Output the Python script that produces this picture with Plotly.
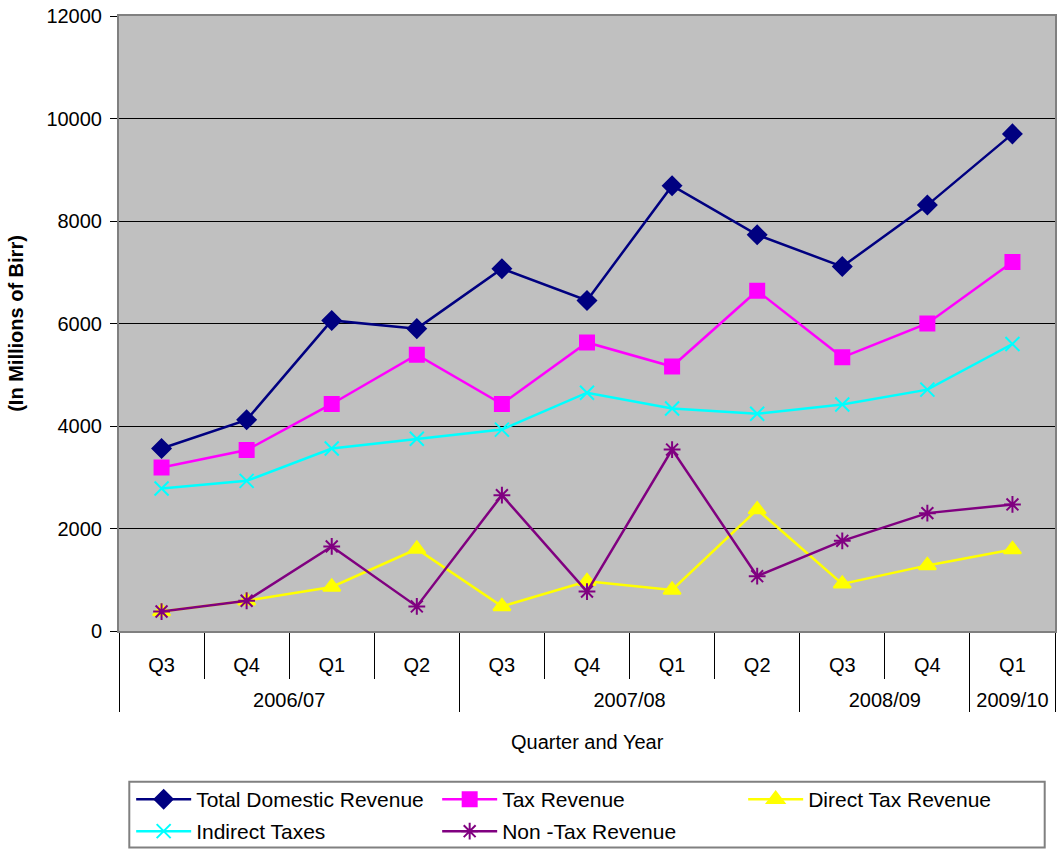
import plotly.graph_objects as go

# categories
years = ['2006/07'] * 4 + ['2007/08'] * 4 + ['2008/09'] * 2 + ['2009/10']
quarters = ['Q3', 'Q4', 'Q1', 'Q2', 'Q3', 'Q4', 'Q1', 'Q2', 'Q3', 'Q4', 'Q1']

# series values (millions of Birr)
total_domestic = [3560, 4120, 6060, 5900, 7070, 6450, 8690, 7730, 7110, 8310, 9700]
tax_revenue = [3190, 3530, 4430, 5390, 4430, 5630, 5160, 6640, 5340, 6000, 7200]
direct_tax = [380, 590, 860, 1600, 480, 970, 800, 2370, 920, 1280, 1590]
indirect_tax = [2780, 2930, 3560, 3750, 3930, 4650, 4340, 4240, 4420, 4710, 5600]
non_tax = [380, 590, 1650, 480, 2650, 770, 3540, 1070, 1760, 2300, 2470]

font_family = 'Liberation Sans, Arial, sans-serif'

# name, values, colour, symbol, size, legend row
series = [
    ('Total Domestic Revenue', total_domestic, '#000080', 'diamond', 14, 'legend'),
    ('Tax Revenue', tax_revenue, '#FF00FF', 'square', 14, 'legend'),
    ('Direct Tax Revenue', direct_tax, '#FFFF00', 'triangle-up', 15, 'legend'),
    ('Indirect Taxes', indirect_tax, '#00FFFF', 'x-thin-open', 14, 'legend2'),
    ('Non -Tax Revenue', non_tax, '#800080', 'asterisk-open', 14, 'legend2'),
]

# year labels pushed one line down so the two label rows sit apart like the original
year_labels = ['<br>' + y for y in years]

fig = go.Figure()
for name, vals, col, sym, sz, lg in series:
    fig.add_trace(go.Scatter(
        x=[year_labels, quarters], y=vals, name=name, mode='lines+markers',
        line=dict(color=col, width=2.5),
        marker=dict(symbol=sym, size=sz, color=col, line=dict(color=col, width=2)),
        legend=lg))

leg = dict(orientation='h', yanchor='middle', xanchor='left', x=0.013,
           bgcolor='rgba(0,0,0,0)', font=dict(size=21),
           itemwidth=55, entrywidth=236, entrywidthmode='pixels')

fig.update_layout(
    width=1057, height=854,
    margin=dict(l=119, r=2, t=16, b=220),
    paper_bgcolor='white',
    plot_bgcolor='#C0C0C0',
    font=dict(family=font_family, size=20, color='black'),
    legend=dict(leg, y=-0.274),
    legend2=dict(leg, y=-0.326),
    xaxis=dict(
        type='multicategory', range=[-0.5, 10.5], showgrid=False,
        showline=True, linecolor='#808080', linewidth=2, mirror=True,
        ticks='outside', tickson='boundaries', ticklen=46, tickcolor='black',
        showdividers=True, dividercolor='black', dividerwidth=1,
        tickfont=dict(size=20), ticklabelstandoff=15, automargin=False,
    ),
    yaxis=dict(
        range=[0, 12000], dtick=2000, tickformat='d',
        showgrid=True, gridcolor='black', gridwidth=1,
        showline=True, linecolor='#808080', linewidth=2, mirror=True,
        ticks='outside', ticklen=7, tickcolor='black',
        tickfont=dict(size=20), ticklabelstandoff=4, automargin=False,
        title=dict(text='<b>(In Millions of Birr)</b>', font=dict(size=20), standoff=17),
    ),
    annotations=[dict(text='Quarter and Year', xref='paper', yref='paper',
                      x=0.5, y=-0.18, xanchor='center', yanchor='middle',
                      showarrow=False, font=dict(size=20))],
    shapes=[dict(type='rect', xref='paper', yref='paper',
                 x0=0.011, x1=0.989, y0=-0.352, y1=-0.245,
                 line=dict(color='#808080', width=2), fillcolor='rgba(0,0,0,0)')],
)

fig.write_html('out.html', config={'displayModeBar': False},
               post_script="document.body.style.margin='0';")
